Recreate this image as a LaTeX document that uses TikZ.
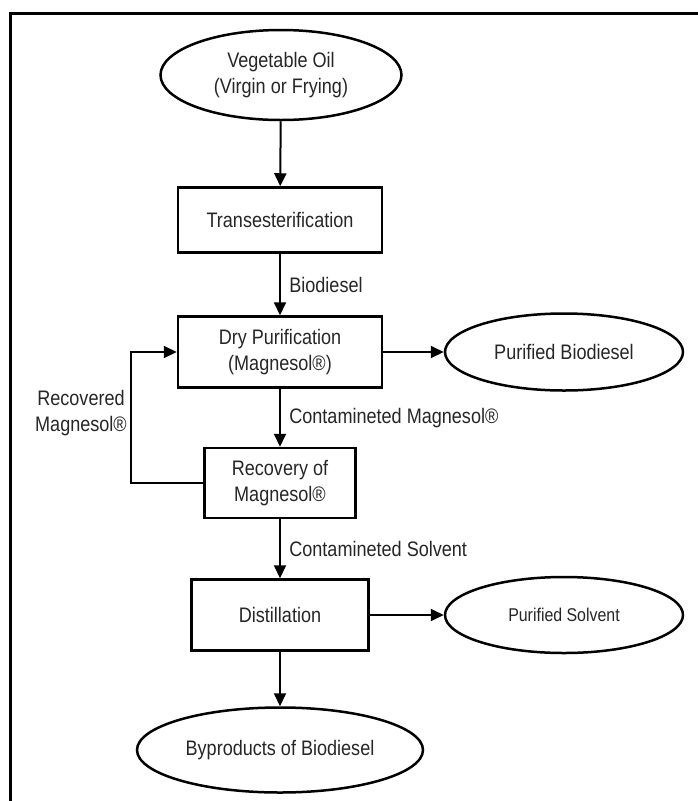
\documentclass[tikz,border=0pt]{standalone}
\usepackage{fontspec}
\setmainfont[FakeStretch=0.86]{Liberation Sans}
\usetikzlibrary{arrows.meta,shapes.geometric}

\begin{document}
\begin{tikzpicture}[x=1pt,y=-1pt,
        every node/.style={font=\fontsize{21}{26}\selectfont,text=black!85},
        stage/.style={draw=black,line width=2.5pt,rectangle,inner sep=0pt,align=center},
        stream/.style={draw=black,line width=2.5pt,ellipse,inner sep=0pt,align=center},
        flow/.style={line width=2pt,-{Triangle[length=13pt,width=12pt]}}]
            \useasboundingbox (0,0) rectangle (698,801);
            \draw[line width=3pt] (10,801) -- (10,13) -- (698,13);
            \node[stream,minimum width=241pt,minimum height=90pt] (oil) at (281,75) {Vegetable Oil\\(Virgin or Frying)};
            \node[stage,minimum width=204pt,minimum height=65pt] (trans) at (280,220) {Transesterification};
            \node[stage,minimum width=204pt,minimum height=71pt] (dry) at (280,352) {Dry Purification\\(Magnesol®)};
            \node[stream,minimum width=238pt,minimum height=77pt] (pbio) at (564,352) {Purified Biodiesel};
            \node[stage,minimum width=151pt,minimum height=70pt] (recov) at (280,483) {Recovery of\\Magnesol®};
            \node[stage,minimum width=177pt,minimum height=71pt] (dist) at (280,615) {Distillation};
            \node[stream,minimum width=238pt,minimum height=76pt,font=\fontsize{18.5}{22}\selectfont] (psol) at (564,615) {Purified Solvent};
            \node[stream,minimum width=286pt,minimum height=85pt] (byp) at (280,750) {Byproducts of Biodiesel};
            \coordinate (back) at (131,352);
            \draw[flow] (oil) -- (trans);
            \draw[flow] (trans) -- node[right=5pt] (lbio) {Biodiesel} (dry);
            \draw[flow] (dry) -- (pbio);
            \draw[flow] (dry) -- node[right=5pt] (lcmag) {Contamineted Magnesol®} (recov);
            \draw[flow] (recov.west) -| (back) -- (dry.west);
            \node[align=center] (lrmag) at (81,413) {Recovered\\Magnesol®};
            \draw[flow] (recov) -- node[right=5pt] (lcsol) {Contamineted Solvent} (dist);
            \draw[flow] (dist) -- (psol);
            \draw[flow] (dist) -- (byp);
        \end{tikzpicture}
\end{document}
